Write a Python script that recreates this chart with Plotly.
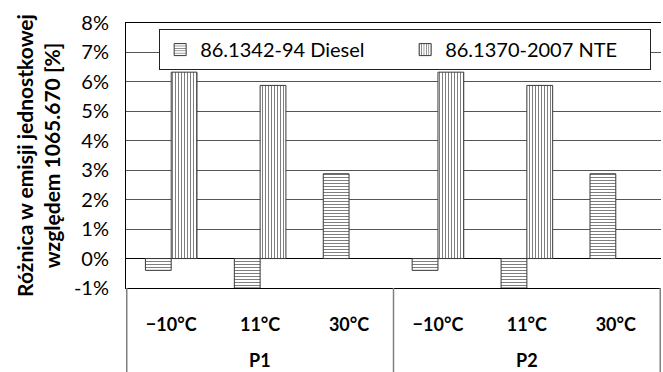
import plotly.graph_objects as go

groups = ["P1", "P1", "P1", "P2", "P2", "P2"]
temps = ["−10°C", "11°C", "30°C", "−10°C", "11°C", "30°C"]
diesel = [-0.4, -1.0, 2.88, -0.4, -1.0, 2.88]
nte = [6.33, 5.88, None, 6.33, 5.88, None]
series_names = ["86.1342-94 Diesel", "86.1370-2007 NTE"]
y_ticks = [-1, 0, 1, 2, 3, 4, 5, 6, 7, 8]
y_title = "<b>Różnica w emisji jednostkowej<br>względem 1065.670 [%]</b>"

FONT = "Lato"
keys = [f"{g}|{t}" for g, t in zip(groups, temps)]

fig = go.Figure()
fig.add_trace(go.Bar(
    x=keys, y=diesel, name=series_names[0],
    marker=dict(color="white", line=dict(color="#3a3a3a", width=1),
                pattern=dict(shape="-", size=3, solidity=0.35, fgcolor="black", bgcolor="white")),
))
fig.add_trace(go.Bar(
    x=keys, y=nte, name=series_names[1],
    marker=dict(color="white", line=dict(color="#3a3a3a", width=1),
                pattern=dict(shape="|", size=3, solidity=0.35, fgcolor="black", bgcolor="white")),
))

# group labels and dividers (derived from category indices)
group_names = []
for g in groups:
    if g not in group_names:
        group_names.append(g)
bottom = -84 / 265
bounds = [-0.5]
for gname in group_names:
    idx = [i for i, g in enumerate(groups) if g == gname]
    fig.add_annotation(x=sum(idx) / len(idx), y=-72 / 265, xref="x", yref="paper",
                       text=f"<b>{gname}</b>", showarrow=False, yanchor="middle",
                       font=dict(family=FONT, size=18, color="black"))
    bounds.append(idx[-1] + 0.5)
for b in bounds:
    fig.add_shape(type="line", x0=b, x1=b, y0=0, y1=bottom, xref="x", yref="paper",
                  line=dict(color="#808080", width=1.5))

fig.update_layout(
    width=663, height=372,
    margin=dict(l=126, r=2, t=23, b=84),
    paper_bgcolor="white", plot_bgcolor="white",
    barmode="group", bargap=0.42, bargroupgap=0,
    font=dict(family=FONT, size=19, color="black"),
    showlegend=True,
    legend=dict(orientation="h", x=0.062, y=0.977, xanchor="left", yanchor="top",
                bgcolor="white", bordercolor="#222", borderwidth=1,
                font=dict(size=20), entrywidth=200,
                traceorder="normal"),
    xaxis=dict(type="category", tickvals=keys, ticktext=[f"<b>{t}</b>" for t in temps],
               showline=True, linecolor="black", linewidth=1,
               mirror=True, showgrid=False, ticks="", ticklabelstandoff=20,
               tickfont=dict(family=FONT, size=18, color="black")),
    yaxis=dict(range=[-1, 8], tickvals=y_ticks, ticktext=[f"{v}%" for v in y_ticks],
               showline=True, linecolor="black", linewidth=1,
               showgrid=True, gridcolor="#555555", gridwidth=1,
               zeroline=True, zerolinecolor="black", zerolinewidth=1,
               ticks="", ticklabelstandoff=12, tickfont=dict(size=20, color="black"),
               title=dict(text=y_title, font=dict(size=21), standoff=7)),
)

fig.write_html("out.html")
